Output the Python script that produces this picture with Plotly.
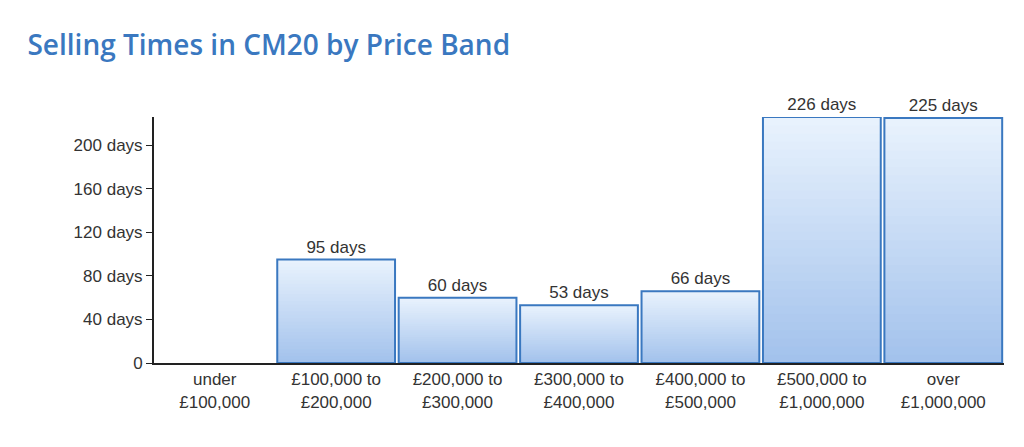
import plotly.graph_objects as go

# data
bands = ["under<br>£100,000", "£100,000 to<br>£200,000", "£200,000 to<br>£300,000",
         "£300,000 to<br>£400,000", "£400,000 to<br>£500,000", "£500,000 to<br>£1,000,000",
         "over<br>£1,000,000"]
days = [0, 95, 60, 53, 66, 226, 225]
tick_vals = [0, 40, 80, 120, 160, 200]
tick_text = ["0", "40 days", "80 days", "120 days", "160 days", "200 days"]

fig = go.Figure()

# fake a vertical gradient: stacked overlay of shrinking bars, light at top, darker at bottom
steps = 30
top_rgb = (232, 242, 253)
bot_rgb = (163, 194, 236)
for i in range(steps):
    f = 1 - i / steps
    t = i / (steps - 1)
    c = tuple(round(top_rgb[k] + (bot_rgb[k] - top_rgb[k]) * t) for k in range(3))
    fig.add_trace(go.Bar(
        x=bands, y=[d * f for d in days],
        marker=dict(color="rgb(%d,%d,%d)" % c, line=dict(width=0)),
        hoverinfo="skip", showlegend=False,
    ))

# outline + labels
fig.add_trace(go.Bar(
    x=bands, y=days,
    marker=dict(color="rgba(0,0,0,0)",
                line=dict(color="#3a78c0", width=[2 if d else 0 for d in days])),
    text=[f"{d} days" if d else "" for d in days],
    textposition="outside", cliponaxis=False,
    textfont=dict(family="Liberation Sans, Arial", size=17, color="#333"),
    showlegend=False,
))

fig.update_layout(
    width=1024, height=447,
    barmode="overlay", bargap=0.03,
    plot_bgcolor="white", paper_bgcolor="white",
    margin=dict(l=146, r=28, t=109, b=92),
    title=dict(text="Selling Times in CM20 by Price Band", x=0.019, xanchor="left",
               y=0.917, yanchor="middle",
               font=dict(family="Open Sans", size=28, color="#3a78c0", weight=600)),
    font=dict(family="Liberation Sans, Arial", size=17, color="#333"),
)
fig.update_yaxes(range=[0, 226], tickvals=tick_vals, ticktext=tick_text,
                 showgrid=False, zeroline=False, showline=True, linecolor="#222",
                 linewidth=2, ticks="outside", ticklen=6, tickcolor="#222")
fig.update_xaxes(showgrid=False, showline=True, linecolor="#222", linewidth=2,
                 ticks="")

fig.write_html("out.html")
